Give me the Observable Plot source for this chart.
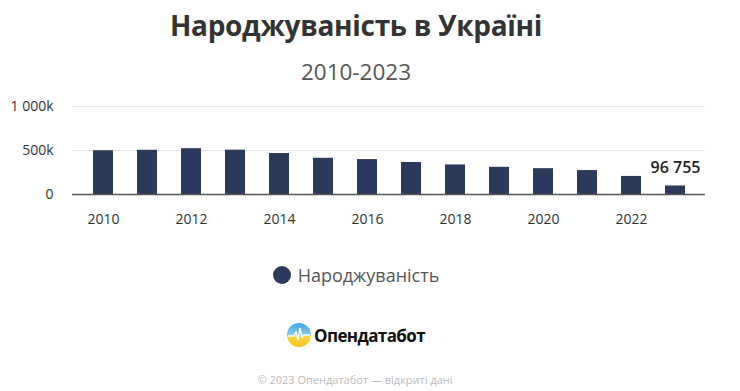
<!DOCTYPE html>
<html>
<head>
<meta charset="utf-8">
<script src="https://cdn.jsdelivr.net/npm/d3@7"></script>
<script src="https://cdn.jsdelivr.net/npm/@observablehq/plot@0.6"></script>
<style>
  html, body { margin: 0; padding: 0; background: #fff; }
  body { width: 740px; height: 391px; overflow: hidden; font-family: "Open Sans", "Noto Sans", sans-serif; }
  #wrap { position: relative; width: 740px; height: 391px; }
  .abs { position: absolute; }
  #title { left: 0; width: 712px; top: 6px; text-align: center; font-size: 28px; font-weight: 700; color: #333; letter-spacing: -0.3px; }
  #subtitle { left: 0; width: 712px; top: 56px; text-align: center; font-size: 22.5px; color: #555; }
  #chart { left: 0; top: 90px; }
  #legend { left: 0; width: 712px; top: 263px; display: flex; justify-content: center; align-items: center; font-size: 18px; color: #555; }
  #legend .dot { width: 18px; height: 18px; border-radius: 50%; background: #2b3a5a; margin-right: 7px; }
  #logo { left: 286px; top: 322px; display: flex; align-items: center; font-size: 17px; font-weight: 700; color: #111; letter-spacing: -0.6px; }
  #footer { left: 0; width: 710px; top: 372px; text-align: center; font-size: 11px; color: #bbb; }
</style>
</head>
<body>
<div id="wrap">
  <div id="title" class="abs">Народжуваність в Україні</div>
  <div id="subtitle" class="abs">2010-2023</div>
  <div id="chart" class="abs"></div>
  <div id="legend" class="abs"><span class="dot"></span><span>Народжуваність</span></div>
  <div id="logo" class="abs">
    <svg width="26" height="26" viewBox="0 0 26 26" style="margin-right:2px">
      <defs>
        <linearGradient id="lg" x1="0" y1="0" x2="0" y2="1">
          <stop offset="0" stop-color="#3aa7e6"/>
          <stop offset="0.5" stop-color="#8fc9e8"/>
          <stop offset="0.55" stop-color="#f7d64a"/>
          <stop offset="1" stop-color="#f5c21b"/>
        </linearGradient>
      </defs>
      <circle cx="13" cy="13" r="12" fill="url(#lg)"/>
      <polyline points="2,14 8,14 10,10 12,18 14,6 16,15 18,13 24,13" fill="none" stroke="#fff" stroke-width="1.4"/>
    </svg>
    <span>Опендатабот</span>
  </div>
  <div id="footer" class="abs">© 2023 Опендатабот — відкриті дані</div>
</div>
<script>
const years = [2010, 2011, 2012, 2013, 2014, 2015, 2016, 2017, 2018, 2019, 2020, 2021, 2022, 2023];
const births = [497689, 502595, 520705, 503657, 465882, 411781, 397037, 363987, 335874, 308817, 293457, 271983, 205311, 96755];
const yTicks = [0, 500000, 1000000];
const yTickLabels = ["0", "500k", "1 000k"];
const xTickYears = [2010, 2012, 2014, 2016, 2018, 2020, 2022];
const lastLabel = "96 755";

const data = years.map((y, i) => ({year: y, value: births[i]}));
const last = data[data.length - 1];

const chart = Plot.plot({
  width: 740,
  height: 145,
  marginTop: 16,
  marginBottom: 41,
  marginLeft: 72,
  marginRight: 35,
  style: {fontFamily: "'Open Sans', 'Noto Sans', sans-serif", fontSize: "14px", color: "#333", background: "transparent"},
  x: {type: "band", domain: years, paddingInner: 0.55, paddingOuter: 0.275, insetLeft: 4, insetRight: 4, label: null},
  y: {domain: [0, 1000000], label: null},
  marks: [
    Plot.ruleY(yTicks.slice(1), {stroke: "#e6e6e6", strokeWidth: 1}),
    Plot.barY(data, {x: "year", y: "value", fill: "#2b3a5a"}),
    Plot.ruleY([0], {stroke: "#555", strokeWidth: 1.5}),
    Plot.axisY({ticks: yTicks, tickFormat: (d) => yTickLabels[yTicks.indexOf(d)], tickSize: 0, tickPadding: 19, fontSize: 14, fill: "#333", label: null}),
    Plot.axisX({ticks: xTickYears, tickFormat: (d) => String(d), tickSize: 0, tickPadding: 20, fontSize: 14, fill: "#333", label: null}),
    Plot.text([last], {x: "year", y: "value", text: () => lastLabel, dy: -18, fontSize: 16, fontWeight: 600, fill: "#222"})
  ]
});
document.getElementById("chart").appendChild(chart);
</script>
</body>
</html>
